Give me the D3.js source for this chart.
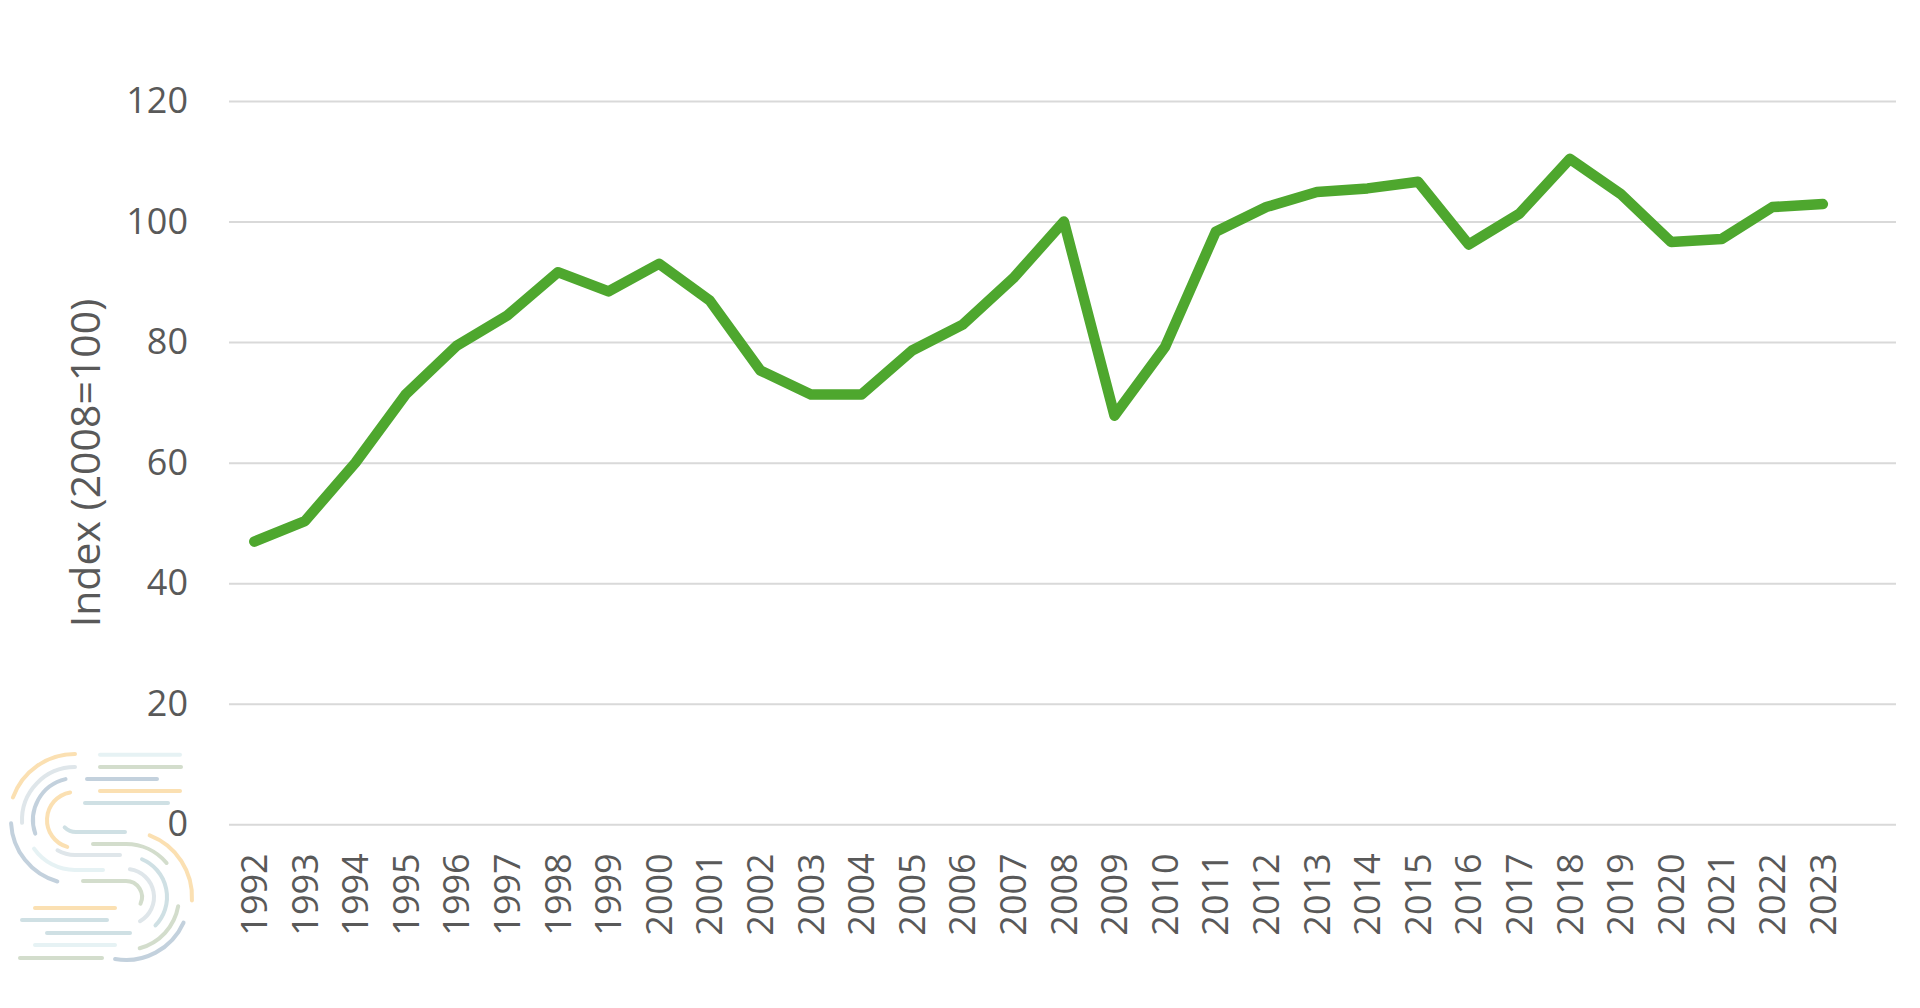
<!DOCTYPE html>
<html>
<head>
<meta charset="utf-8">
<script src="https://cdn.jsdelivr.net/npm/d3@7"></script>
<style>
  body { margin: 0; background: #fff; }
  svg text { font-family: "Open Sans", sans-serif; fill: #595959; }
</style>
</head>
<body>
<div id="chart"></div>
<script>
// years on the category axis
const years = ["1992","1993","1994","1995","1996","1997","1998","1999","2000","2001",
               "2002","2003","2004","2005","2006","2007","2008","2009","2010","2011",
               "2012","2013","2014","2015","2016","2017","2018","2019","2020","2021",
               "2022","2023"];

// index values (2008 = 100)
const indexValues = [46.9, 50.3, 60.0, 71.4, 79.4, 84.4, 91.6, 88.4, 93.0, 86.9,
                     75.3, 71.3, 71.3, 78.6, 82.9, 90.6, 100.0, 67.8, 79.2, 98.3,
                     102.4, 104.9, 105.5, 106.6, 96.2, 101.3, 110.4, 104.6, 96.6, 97.1,
                     102.4, 102.9];

const yTicks = [0, 20, 40, 60, 80, 100, 120];
const yTitle = "Index (2008=100)";

const width = 1920;
const height = 1008;

const plotLeft = 229, plotRight = 1896;
const plotTop = 101, plotBottom = 824.3;
const step = 50.6;

const svg = d3.select("#chart").append("svg")
    .attr("width", width)
    .attr("height", height);

// scales
const x = d3.scaleBand()
    .domain(years)
    .range([plotLeft, plotLeft + years.length * step]);

const y = d3.scaleLinear()
    .domain([0, 120])
    .range([plotBottom, plotTop]);

// y axis with gridlines
const yAxis = svg.append("g")
    .attr("transform", `translate(${plotLeft},0)`)
    .call(d3.axisLeft(y).tickValues(yTicks).tickSize(-(plotRight - plotLeft)).tickPadding(41));

yAxis.select(".domain").remove();
yAxis.selectAll("line").attr("stroke", "#d9d9d9").attr("stroke-width", 2);
yAxis.selectAll("text")
    .style("font-size", "36px")
    .attr("fill", "#595959");

// x axis, rotated labels
const xAxis = svg.append("g")
    .attr("transform", `translate(0,${plotBottom})`)
    .call(d3.axisBottom(x).tickSize(0));

xAxis.select(".domain").remove();
xAxis.selectAll("text")
    .style("font-size", "36px")
    .attr("fill", "#595959")
    .attr("text-anchor", "end")
    .attr("transform", "rotate(-90)")
    .attr("x", -29)
    .attr("y", 0)
    .attr("dy", "0.35em");

// axis title
svg.append("text")
    .attr("transform", "rotate(-90)")
    .attr("x", -463)
    .attr("y", 100)
    .attr("text-anchor", "middle")
    .style("font-size", "41px")
    .text(yTitle);

// the line
const line = d3.line()
    .x((d, i) => x(years[i]) + x.bandwidth() / 2)
    .y(d => y(d));

svg.append("path")
    .datum(indexValues)
    .attr("d", line)
    .attr("fill", "none")
    .attr("stroke", "#4ea72e")
    .attr("stroke-width", 10.5)
    .attr("stroke-linecap", "round")
    .attr("stroke-linejoin", "round");

// watermark logo (pastel "S" made of strokes)
const logo = svg.append("g")
    .attr("transform", "translate(0,745)")
    .attr("fill", "none")
    .attr("stroke-width", 4)
    .attr("stroke-linecap", "round");

const yel = "#fbe0b2", gry = "#dfe6ea", blu = "#c3d1dd", sag = "#d3ddcc", tea = "#cfe0e4", cya = "#e6f2f4";

const c1 = [75, 75], c2 = [126, 152];
const deg = Math.PI / 180;
function arcPath(c, r, a0, a1) {
  const p = d3.path();
  p.arc(c[0], c[1], r, (a0 - 90) * deg, (a1 - 90) * deg, a1 < a0);
  return p.toString();
}
const arcs = [
  [c1, 66, -70, 0, yel],
  [c1, 53, -93, 0, gry],
  [c1, 42, -109, -13, blu],
  [c1, 28, -164, -10, yel],
  [c1, 64, -164, -93, blu],
  [c2, 66, 21, 93, yel],
  [c2, 41, 23, 134, tea],
  [c2, 28, 8, 150, gry],
  [c2, 53, 100, 165, sag],
  [c2, 63, 114, 190, blu]
];
arcs.forEach(a => {
  logo.append("path").attr("d", arcPath(a[0], a[1], a[2], a[3])).attr("stroke", a[4]);
});

// inner hooks: arc + straight line
function hook(c, r, a0, a1, x2, color) {
  const p = d3.path();
  p.arc(c[0], c[1], r, (a0 - 90) * deg, (a1 - 90) * deg, a1 < a0);
  p.lineTo(x2, c[1] + r);
  logo.append("path").attr("d", p.toString()).attr("stroke", color);
}
hook([76, 71], 16, -135, -180, 125, tea);
hook(c1, 50, -125, -180, 103, cya);
hook(c1, 35, -150, -180, 120, gry);

// lines flowing into lower arcs
function hookR(c, r, xStart, a1, color) {
  const p = d3.path();
  p.moveTo(xStart, c[1] - r);
  p.lineTo(c[0], c[1] - r);
  p.arc(c[0], c[1], r, -90 * deg, (a1 - 90) * deg, false);
  logo.append("path").attr("d", p.toString()).attr("stroke", color);
}
hookR(c2, 53, 93, 50, sag);
hookR(c2, 16, 83, 115, sag);

const bars = [
  [100, 180, 9.7, cya], [100, 181, 22, sag], [87, 157, 34, blu],
  [100, 180, 46, yel], [85, 168, 58, tea],
  [35, 115, 163, yel], [22, 107, 175, tea], [47, 130, 188, tea],
  [35, 115, 200, cya], [20, 102, 213, sag]
];
bars.forEach(b => {
  logo.append("line")
      .attr("x1", b[0]).attr("x2", b[1])
      .attr("y1", b[2]).attr("y2", b[2])
      .attr("stroke", b[3]);
});
</script>
</body>
</html>
